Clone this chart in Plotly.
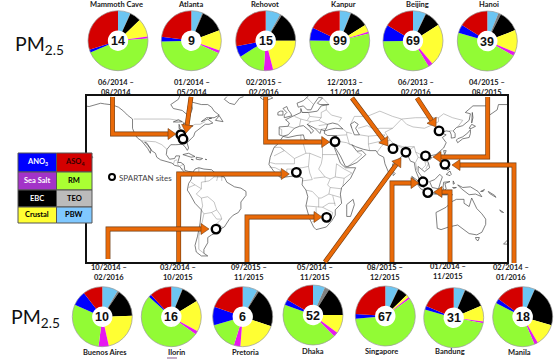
import math
import plotly.graph_objects as go

W, H = 557, 359

# ---------- data ----------
SITES = ["Mammoth Cave", "Atlanta", "Rehovot", "Kanpur", "Beijing", "Hanoi",
         "Buenos Aires", "Ilorin", "Pretoria", "Dhaka", "Singapore", "Bandung", "Manila"]
PM25 = [14, 9, 15, 99, 69, 39, 10, 16, 6, 52, 67, 31, 18]
DATES = [("06/2014 –", "08/2014"), ("01/2014 –", "05/2014"), ("02/2015 –", "02/2016"),
         ("12/2013 –", "11/2014"), ("06/2013 –", "02/2016"), ("04/2015 –", "08/2015"),
         ("10/2014 –", "02/2016"), ("03/2014 –", "10/2015"), ("09/2015 –", "11/2015"),
         ("05/2014 –", "11/2015"), ("08/2015 –", "12/2015"), ("01/2014 –", "11/2015"),
         ("02/2014 –", "01/2016")]
LON = [-86.1, -84.4, 34.8, 80.3, 116.4, 105.8, -58.5, 4.5, 28.2, 90.4, 103.8, 107.6, 121.0]
LAT = [37.1, 33.8, 31.9, 26.5, 40.0, 21.0, -34.6, 8.5, -25.7, 23.8, 1.35, -6.9, 14.6]

COMPONENTS = ["PBW", "TEO", "EBC", "Crustal", "Sea Salt", "RM", "ANO3", "ASO4"]
PBW      = [6.7, 6, 8, 6, 7, 6, 8.5, 6, 8, 6.5, 7, 6, 6.5]
TEO      = [0.2, 0.5, 1, 0.3, 0.3, 1.5, 1, 0.3, 1, 2.5, 0.2, 0.3, 0.2]
EBC      = [6, 13, 16, 10, 9, 11.5, 15, 10, 21, 16, 5.5, 12, 23]
CRUSTAL  = [10, 11, 21, 4, 23, 12, 22, 17, 21, 10, 1.5, 8.5, 12]
SEA_SALT = [1, 1.5, 5, 1, 2.5, 2, 5.5, 2, 3.5, 2.5, 1, 1, 2]
RM       = [45, 43, 15, 54.5, 34, 46, 29.5, 52, 15.5, 43, 58.5, 51, 39]
ANO3     = [1.5, 2.5, 6, 7, 9, 4.5, 8, 1.5, 10, 3, 2.5, 2, 2.5]
ASO4     = [30, 23, 28, 18, 16.5, 16, 10.5, 12, 19.5, 16.5, 24, 18.5, 15]

# coastlines and borders, simplified (lon, lat)
COASTS = [
 [(-165,60),(-162,59),(-158,58.5),(-152,60),(-149,61),(-146,60.5),(-140,59.8),(-135,58),(-131,55),(-128,52),(-124,49),(-124,46),(-124,42),(-122,37),(-120,34.5),(-117,32.5),(-115,30),(-112,26.5),(-110,23),(-109.5,26),(-113,31),(-114.5,31.5),(-112,29),(-109,25),(-106,23),(-105,20),(-102,18),(-96,16),(-93,15.5),(-91,13.8),(-87,13),(-85,10.5),(-83,8.3),(-80,7.5),(-78,8),(-77,8.7),(-80,9.2),(-83,10),(-83.5,14),(-86,16),(-88.5,16),(-88,18.5),(-87,21),(-90,21),(-91,19),(-95,18.5),(-97.5,22),(-97,26),(-94,29.5),(-90,29.5),(-85,29.8),(-82.8,28),(-81,25.2),(-80,27),(-81.3,31),(-78,34),(-76,36),(-75,39),(-72,41),(-70,43),(-67,45),(-64,45),(-61,46),(-65,49),(-70,47),(-66,50),(-60,50),(-56,52),(-60,55),(-62,58),(-65,60),(-70,60),(-78,62),(-77,57),(-79,52),(-82,53),(-85,55.5),(-92,57),(-94,60),(-88,64),(-87,66.5)],
 [(-165,64),(-160,64.5),(-161,66),(-165,66.5)],
 [(-59,48),(-53,47),(-56,51.5),(-59,48)],
 [(-64,49.5),(-62,49.5),(-63,49),(-64,49.5)],
 [(-84.5,22),(-80,23),(-75,20.5),(-78,20),(-84.5,22)],
 [(-74,20),(-69,19),(-71,18),(-74,18.5),(-74,20)],
 [(-78,18.4),(-76.3,18),(-78,17.9),(-78,18.4)],
 [(-67,18.4),(-65.8,18.2),(-67,18),(-67,18.4)],
 [(-88,48.5),(-85,47),(-88,46.7),(-92,46.8),(-88,48.5)],
 [(-87.5,45),(-86.5,42),(-87.5,41.7),(-87.5,45)],
 [(-84,46),(-81,45),(-82,43.2),(-84,44),(-84,46)],
 [(-83,41.7),(-79,42.8),(-80,42.5),(-83,41.7)],
 [(-79.5,43.5),(-76.5,43.8),(-77,43.3),(-79.5,43.5)],
 [(-50,66),(-52,64),(-48,61),(-44,60),(-40,65),(-37,66)],
 [(-24,65.5),(-22,64),(-18,63.5),(-14,65),(-16,66.4),(-22,66.3),(-24,65.5)],
 [(-77,8),(-75,11),(-72,12),(-68,11),(-62,10.5),(-58,7),(-52,5),(-50,1),(-44,-2.5),(-39,-3.5),(-35,-6),(-35,-9),(-39,-14),(-39,-19),(-41,-22),(-45,-24),(-48,-27),(-52,-33),(-56,-35),(-58,-34.3),(-57,-37),(-62,-39),(-65,-41),(-65,-45),(-68,-50),(-68,-53),(-65,-55),(-70,-55),(-74,-52),(-75,-47),(-73,-40),(-71,-30),(-70,-20),(-75,-15),(-79,-8),(-81,-5),(-80,0),(-78,3),(-77,8)],
 [(-6,35.8),(-2,35),(5,36.5),(10,37),(11,33.5),(15,32.5),(20,31),(25,31.7),(32,31),(34,28),(37,21),(39,15.5),(43,12),(51,12),(47,4),(40,-3),(39,-8),(40,-15),(35,-20),(35,-24),(32.5,-28),(28,-33),(20,-35),(18,-33),(15,-27),(12,-17),(13.5,-10),(12,-5),(9,-1),(9.5,4),(5,6),(-4,5),(-8,4.5),(-13,9),(-17,14.5),(-16,20),(-13,27.5),(-10,30),(-6,35.8)],
 [(49,-12),(50,-16),(47,-25),(44,-25),(44,-20),(44,-16),(49,-12)],
 [(14,66.5),(10,63),(5,61),(6,58),(10,59),(13,56),(16,56),(18,60),(22,65.5),(25,65),(21,61),(23,60),(30,60),(24,59),(21,55),(14,54),(9,54),(8,57),(8,54),(4,52),(1,50.5),(-4,48.5),(-1,46),(-2,43.5),(-9,43),(-9,37),(-6,36),(-2,37),(0,39),(3,42),(7,43.5),(10,44),(15,40),(16,38),(18,40),(13,45),(19,42),(23,38),(24,41),(27,40),(30,41),(35,42),(41,41.5),(37,45),(33,46),(29,45),(28,42),(26.5,40),(26.5,38),(29,36.5),(36,36.5),(35,32),(34.2,31),(34.5,28),(39,21),(43,13),(45,13),(52,16),(59,22),(56,25),(52,24.5),(48,29.5),(51,28),(57,26),(62,25),(67,25),(69,22),(73,20),(74,15),(77,8),(80,13),(80,15),(86,20),(89,22),(92,21),(94,17),(97,16),(98,10),(101,3),(104,1.5),(103,5),(100,9),(100,13),(103,11),(105,9),(109,12),(108,16),(106,19),(109,21),(114,22),(120,27),(122,31),(119,35),(122,37),(118,38.5),(122,40),(125,39.5),(126,37),(126,34.5),(129,35),(129,38),(127.5,40),(130,42.5),(135,44),(140,48),(141,53),(137,54),(143,59),(155,59),(156,52),(162,56),(163,60),(170,60),(180,65)],
 [(47,45),(50,47),(53,45),(51,42),(54,37),(50,37),(48,42),(47,45)],
 [(130,33),(131,31),(135,34),(140,35),(141,38),(141,41),(139,38.5),(135,35.5),(131,34),(130,33)],
 [(140,42),(142,45),(145,43.5),(141.5,41.8),(140,42)],
 [(142,46),(143,50),(142.5,54),(142,50),(142,46)],
 [(120,25),(122,25),(120.8,22),(120,25)],
 [(109,20),(111,20),(109.5,18.3),(109,20)],
 [(95,5.5),(100,2),(104,-2),(106,-6),(102,-4),(98,1),(95,5.5)],
 [(105.5,-6.5),(111,-6.5),(114.5,-8),(108,-7.8),(105.5,-6.5)],
 [(116,-8.5),(119,-8.5),(123,-8.5),(119,-9),(116,-8.5)],
 [(124,-10),(127,-8.5),(124,-9.5),(124,-10)],
 [(109,1.5),(113,3),(117,7),(119,5),(117.5,1),(116,-4),(111,-3),(109,1.5)],
 [(120,1),(125,1.5),(121,0),(122,-4),(120.5,-5.5),(119.5,-3),(120,1)],
 [(127.5,2),(128.5,0),(127.5,-0.5),(127.5,2)],
 [(127,-3),(130,-3),(128,-3.7),(127,-3)],
 [(131,-1),(135,-3),(141,-2.5),(147,-6),(150,-10),(145,-8),(140,-8.5),(138,-7),(134,-4),(131,-1)],
 [(149,-6),(152,-4.5),(151,-6),(149,-6)],
 [(155,-6),(160,-9),(161,-10.5),(156,-7.5),(155,-6)],
 [(120.5,18),(122,18),(122,14),(124,13),(120.5,14),(120,16),(120.5,18)],
 [(122,11),(123,10),(125,11),(123,11.5),(122,11)],
 [(122,7),(125,9.5),(126,7),(125,6),(122,7)],
 [(80,9.5),(82,7.5),(80.5,6),(80,9.5)],
 [(-5,50),(1,51.5),(0,53.5),(-2,56),(-3,58.5),(-6,57),(-3,54),(-5,52),(-5,50)],
 [(-10,52),(-6,52),(-6,55),(-8,55),(-10,54),(-10,52)],
 [(114,-22),(122,-18),(126,-14),(130,-12),(136,-12),(136,-15),(140,-17.5),(142,-11),(146,-19),(150,-23),(153,-27),(153,-31),(150,-37),(146,-39),(140,-38),(136,-35),(131,-31.5),(124,-33),(118,-35),(115,-34),(114,-26),(114,-22)],
 [(145,-41),(148,-41),(147,-43.5),(145.5,-42.5),(145,-41)],
 [(167,-46),(170,-46),(174,-41),(171,-42),(167,-46)],
 [(164,-20),(167,-22),(165,-21.5),(164,-20)],
 [(-157,21.5),(-155,20),(-156,19),(-157,21.5)],
]
BORDERS = [
 [(-123,49),(-95,49),(-88,48),(-83,46),(-82,42.5),(-79,43),(-75,45),(-71,45),(-67,47)],
 [(-141,60),(-141,66.5)], [(-117,32.5),(-108,31.5),(-106,31.7),(-101,29.5),(-97,26)],
 [(-92,14.5),(-91,17.5),(-89,18)], [(-89,16),(-88,13.5)], [(-83.5,15),(-87,13)], [(-84,11),(-86,11)],
 [(-52,5),(-60,5),(-64,2),(-70,1),(-70,-4),(-74,-8),(-70,-11),(-65,-10),(-60,-14),(-58,-20),(-55,-24),(-54,-27),(-57.5,-30),(-53,-33.5)],
 [(-70,-20),(-68,-23),(-70,-32),(-72,-40),(-72,-50),(-68,-53)], [(-68,-23),(-62,-22),(-58,-20)],
 [(-72,12),(-72,7),(-67,6),(-67,1)], [(-80,-3),(-75,-1),(-70,-4)], [(-62,-22),(-58,-27),(-54,-27)],
 [(-70,-11),(-69,-17),(-70,-20)], [(-60,8),(-60,5)], [(-57,6),(-58,2)], [(-54,6),(-54,2)], [(-58,-30),(-58,-34)], [(-78,1),(-75,-1)],
 [(-8,27.5),(3,19),(12,23),(10,30),(8,33),(8,37)], [(-13,21),(-5,25),(-8,27.5)], [(-13,27.5),(-8,27.5)],
 [(25,31.7),(25,20),(24,15),(22,11),(27,5),(31,3.5),(35,5),(42,4),(41,-2)], [(25,22),(37,22)], [(12,23),(15,23),(24,19.5)],
 [(15,23),(14,13),(9,12),(3,12),(3,6)], [(-12,15),(-5,15),(3,15),(3,19)], [(-8,4.5),(-8,10),(-12,12),(-16.5,12.5)],
 [(-3,5),(-3,11),(1,11),(1,6)], [(14,13),(15,8),(17,3),(9,2)], [(18,4),(27,5)],
 [(12,-5),(17,-6),(22,-11),(24,-11),(30,-8),(31,-3),(29,-1),(31,3.5)], [(12,-17),(22,-18),(25,-18),(33,-22),(32,-26)],
 [(20,-18),(20,-28),(17,-29)], [(30,-8),(39,-10.5)], [(33,-9),(35,-17)], [(36,15),(42,11),(48,8),(42,4)], [(35,5),(36,15)],
 [(22,-11),(22,-18)], [(31,-3),(40,-4)], [(25,-18),(30,-15),(35,-15)], [(-12,15),(-16,16)],
 [(28,60),(28,56),(32,52),(40,50),(38,47)], [(48,42),(47,45),(50,51),(60,51),(70,55),(80,51),(87,49),(98,50),(106,50),(116,50),(120,53),(127,50),(135,48),(131,43)],
 [(87,49),(91,45),(96,43),(105,42),(112,45),(116,47),(116,50)],
 [(74,39),(80,42),(87,49)], [(74,39),(78,33),(81,30),(88,28),(97,28),(98,24),(102,22),(106,23),(108,21.5)],
 [(53,42),(60,44),(66,41),(70,42),(80,42)], [(44,39),(48,38)], [(54,37),(61,36),(61,30),(62,25)],
 [(61,36),(71,37),(74,37)], [(61,30),(70,32),(74,37)], [(68,24),(71,28),(75,32),(78,33)],
 [(81,30),(88,27),(89,26),(92,25),(89,22)], [(92,25),(97,28)], [(98,24),(100,20),(98,16),(99,10)],
 [(102,22),(105,18),(108,15),(106,11)], [(100,20),(105,18),(106,14),(103,11)],
 [(36,36.5),(44,37),(44,39),(41,41.5)], [(44,37),(46,30),(48,29.5)], [(35,29),(38,32),(44,31),(48,29)], [(45,13),(52,19),(56,22),(52,24)],
 [(-2,43.5),(3,42)], [(3,51),(8,49),(7,44)], [(8,49),(13,48),(16,47),(13,45)], [(9,54),(14,54),(15,51),(24,50),(24,54),(28,56)],
 [(15,51),(13,48)], [(24,50),(22,48),(29,45)], [(16,47),(22,48)], [(19,42),(23,41),(26,41.5),(28,42)], [(22,44),(29,45)],
 [(-9,42),(-7,41),(-7,37)], [(12,66),(18,60)], [(24,66),(30,60)], [(127,40),(124.5,40)],
]

LEGEND_ITEMS = ["ANO<sub>3</sub>", "ASO<sub>4</sub>", "Sea Salt", "RM", "EBC", "TEO", "Crustal", "PBW"]

# ---------- styling ----------
PIE_COLORS = ["#6cc5f2", "#7f7f7f", "#000000", "#ffff33", "#e619f0", "#92fb35", "#0000ff", "#d40000"]
LEGEND_COLORS = ["#0000ff", "#d40000", "#a333c8", "#aaff33", "#000000", "#bbbbbb", "#ffff33", "#80c8ff"]
LEGEND_TEXT = ["white", "#300000", "white", "black", "white", "black", "black", "black"]
FONT = "Lato, 'Open Sans', sans-serif"
NUM_FONT = "'Liberation Sans', Arial, sans-serif"
ORANGE, ORANGE_EDGE = "#ea6a08", "#6e3a10"

PIE_CENTER = [(118, 40.7), (191.3, 40.7), (265.7, 40.7), (339.7, 40.8), (413, 40.8), (487.3, 41),
              (102.3, 316.7), (171.3, 316.7), (242.7, 316.7), (313, 315), (385.3, 316), (453.7, 317.7), (522.7, 316.7)]
PIE_R = 30
NAME_POS = [(116, 4.5), (190, 4.5), (265, 4.5), (343, 4.5), (417, 4.5), (489, 4.5),
            (105, 352), (176, 352), (245, 352), (313, 351), (381, 351), (450, 351), (519, 352)]
DATE_POS = [(116, 82), (192, 82), (264, 82), (345, 82), (416, 82), (487, 82),
            (109, 267), (178, 267), (249, 267), (315, 267), (385, 267), (448, 266), (511, 267)]
ARROWS = [
 [(112.5, 97), (112.5, 134), (176, 134)],
 [(191, 97), (186, 133)],
 [(265.7, 97), (265.7, 142), (329.7, 142)],
 [(352, 98), (388, 146)],
 [(417, 98), (436, 127)],
 [(487.7, 97), (487.7, 157), (433, 157)],
 [(514, 263), (514, 165), (452, 165)],
 [(450, 262), (450, 192), (434, 192)],
 [(392, 262), (392, 183), (419, 183)],
 [(325, 262), (401, 158)],
 [(247, 262), (247, 217), (322, 217)],
 [(178.7, 262), (178.7, 174), (289.3, 174)],
 [(108, 259), (108, 229), (209, 229)],
]

px = lambda x: x / W
py = lambda y: 1 - y / H

def path(points):
    return "M " + " L ".join(f"{px(x):.5f},{py(y):.5f}" for x, y in points)

shapes, annotations = [], []

def label(x, y, text, size=8, color="#1a1a1a", bold=True, anchor="center", family=FONT):
    annotations.append(dict(x=px(x), y=py(y), xref="paper", yref="paper", showarrow=False,
                            text=f"<b>{text}</b>" if bold else text, xanchor=anchor, yanchor="middle",
                            font=dict(family=family, size=size, color=color), borderpad=0))

def polyline(points, color, width):
    shapes.append(dict(type="path", path=path(points), xref="paper", yref="paper",
                       line=dict(color=color, width=width), fillcolor="rgba(0,0,0,0)"))

for pts in ARROWS:
    (x0, y0), (x1, y1) = pts[-2], pts[-1]
    d = math.hypot(x1 - x0, y1 - y0)
    ux, uy = (x1 - x0) / d, (y1 - y0) / d
    bx, by = x1 - 8 * ux, y1 - 8 * uy
    head = [(x1, y1), (bx - 5.5 * uy, by + 5.5 * ux), (bx + 5.5 * uy, by - 5.5 * ux)]
    shaft = pts[:-1] + [(bx, by)]
    polyline(shaft, ORANGE_EDGE, 4.8)
    polyline(shaft, ORANGE, 3.6)
    shapes.append(dict(type="path", path=path(head) + " Z", xref="paper", yref="paper",
                       line=dict(color=ORANGE_EDGE, width=0.6), fillcolor=ORANGE))

# legend table
col_x = [18, 56.5, 92]
row_y = [153, 172, 190, 207, 223]
for i, item in enumerate(LEGEND_ITEMS):
    c, r = i % 2, i // 2
    shapes.append(dict(type="rect", xref="paper", yref="paper", x0=px(col_x[c]), x1=px(col_x[c + 1]),
                       y0=py(row_y[r]), y1=py(row_y[r + 1]), fillcolor=LEGEND_COLORS[i],
                       line=dict(color="#555555", width=1)))
    label((col_x[c] + col_x[c + 1]) / 2, (row_y[r] + row_y[r + 1]) / 2 - 0.5, item, size=7.5, color=LEGEND_TEXT[i])

# spartan key
shapes.append(dict(type="circle", xref="paper", yref="paper", x0=px(109), x1=px(115), y0=py(180), y1=py(174),
                   fillcolor="white", line=dict(color="black", width=2)))
label(118, 177.5, "SPARTAN sites", size=8, color="#444444", bold=False, anchor="left")

# PM2.5 headings
label(14, 45, "PM<sub>2.5</sub>", size=19.5, color="#111111", bold=False, anchor="left")
label(10, 318, "PM<sub>2.5</sub>", size=19.5, color="#111111", bold=False, anchor="left")

# stray mark below Ilorin
shapes.append(dict(type="line", xref="paper", yref="paper", x0=px(167), x1=px(177), y0=py(358), y1=py(358),
                   line=dict(color="#8a5a8a", width=1)))

fig = go.Figure()

def add_lines(lines, width, color):
    xs, ys = [], []
    for seg in lines:
        xs += [p[0] for p in seg] + [None]
        ys += [p[1] for p in seg] + [None]
    fig.add_trace(go.Scatter(x=xs, y=ys, mode="lines", line=dict(color=color, width=width),
                             hoverinfo="skip", showlegend=False))

add_lines(BORDERS, 0.5, "#8a8a8a")
add_lines(COASTS, 0.7, "#4a4a4a")
fig.add_trace(go.Scatter(x=LON, y=LAT, mode="markers", text=SITES, showlegend=False,
                         marker=dict(size=8.5, color="white", line=dict(color="black", width=2.4))))

for i, site in enumerate(SITES):
    cx, cy = PIE_CENTER[i]
    vals = [PBW[i], TEO[i], EBC[i], CRUSTAL[i], SEA_SALT[i], RM[i], ANO3[i], ASO4[i]]
    fig.add_trace(go.Pie(values=vals, labels=COMPONENTS, name=site, sort=False, direction="clockwise", rotation=0,
                         hole=0.34, textinfo="none", showlegend=False,
                         marker=dict(colors=PIE_COLORS, line=dict(width=0)),
                         domain=dict(x=[px(cx - PIE_R), px(cx + PIE_R)], y=[py(cy + PIE_R), py(cy - PIE_R)])))
    shapes.append(dict(type="circle", xref="paper", yref="paper", x0=px(cx - PIE_R), x1=px(cx + PIE_R),
                       y0=py(cy + PIE_R), y1=py(cy - PIE_R), line=dict(color="#9a9a9a", width=0.7)))
    label(cx, cy + 0.5, str(PM25[i]), size=12.5, color="#111111", family=NUM_FONT)
    label(NAME_POS[i][0], NAME_POS[i][1], site, size=7.5)
    label(DATE_POS[i][0], DATE_POS[i][1], DATES[i][0], size=7.5)
    label(DATE_POS[i][0], DATE_POS[i][1] + 10, DATES[i][1], size=7.5)

axis = dict(showgrid=False, zeroline=False, showticklabels=False, ticks="", showline=True,
            linecolor="#111111", linewidth=1.6, mirror=True)
fig.update_layout(
    width=W, height=H, autosize=False, margin=dict(l=0, r=0, t=0, b=0),
    paper_bgcolor="white", plot_bgcolor="white", showlegend=False, shapes=shapes, annotations=annotations,
    xaxis=dict(axis, range=[-159.7, 169.7], domain=[px(87), px(507)]),
    yaxis=dict(axis, range=[-59.6, 66.5], domain=[py(262), py(96)]),
)
fig.write_html("out.html", config=dict(displayModeBar=False),
               post_script="document.body.style.margin='0';document.body.style.overflow='hidden';")
